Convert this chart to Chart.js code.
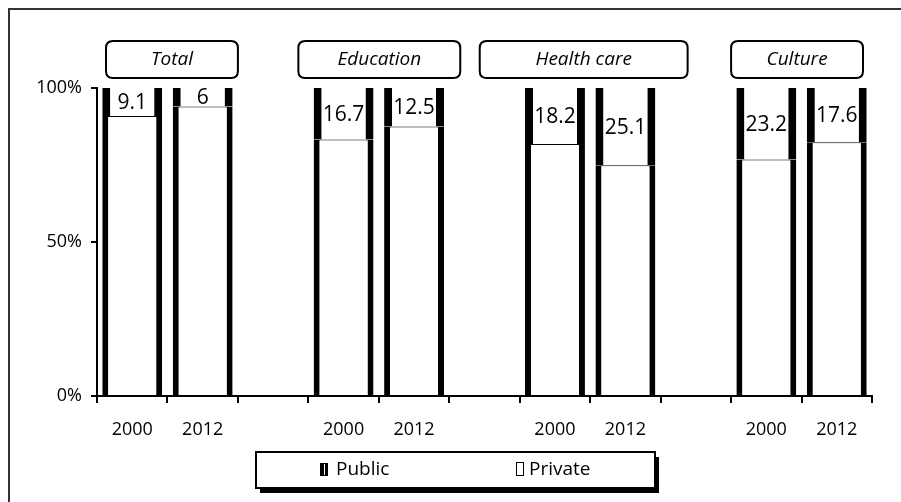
<!DOCTYPE html>
<html>
<head>
<meta charset="utf-8">
<script src="https://cdn.jsdelivr.net/npm/chart.js@4"></script>
<style>
  html, body { margin: 0; padding: 0; background: #fff; }
  #wrap { width: 901px; height: 502px; position: relative; }
</style>
</head>
<body>
<div id="wrap"><canvas id="c" width="901" height="502"></canvas></div>
<script>
// ---- data ----
const categories = ['2000', '2012', '', '2000', '2012', '', '2000', '2012', '', '2000', '2012'];
const publicValues = [90.9, 94.0, null, 83.3, 87.5, null, 81.8, 74.9, null, 76.8, 82.4];
const privateValues = [9.1, 6.0, null, 16.7, 12.5, null, 18.2, 25.1, null, 23.2, 17.6];
const privateLabels = ['9.1', '6', '', '16.7', '12.5', '', '18.2', '25.1', '', '23.2', '17.6'];
const sectorNames = ['Total', 'Education', 'Health care', 'Culture'];
const sectorFirstIndex = [0, 3, 6, 9];
const seriesNames = ['Public', 'Private'];
const yTickStep = 50;

// ---- style ----
const FONT = '"Open Sans", Lato, "Liberation Sans", sans-serif';
const headerBoxAdjust = [[9, 0], [-10, 11], [-40, 27], [0, -9]]; // [left, right] pixel tweaks
const headerTop = 41, headerBottom = 78;

function roundRect(ctx, x, y, w, h, r) {
  ctx.beginPath();
  ctx.moveTo(x + r, y);
  ctx.lineTo(x + w - r, y);
  ctx.quadraticCurveTo(x + w, y, x + w, y + r);
  ctx.lineTo(x + w, y + h - r);
  ctx.quadraticCurveTo(x + w, y + h, x + w - r, y + h);
  ctx.lineTo(x + r, y + h);
  ctx.quadraticCurveTo(x, y + h, x, y + h - r);
  ctx.lineTo(x, y + r);
  ctx.quadraticCurveTo(x, y, x + r, y);
  ctx.closePath();
}

const decorPlugin = {
  id: 'decor',
  beforeDraw(chart) {
    const ctx = chart.ctx;
    ctx.save();
    ctx.fillStyle = '#fff';
    ctx.fillRect(0, 0, chart.width, chart.height);
    // outer frame (top & left)
    ctx.strokeStyle = '#333';
    ctx.lineWidth = 2;
    ctx.beginPath();
    ctx.moveTo(9, 502);
    ctx.lineTo(9, 9);
    ctx.lineTo(901, 9);
    ctx.stroke();
    ctx.restore();
  },
  afterDraw(chart) {
    const ctx = chart.ctx;
    const xs = chart.scales.x;
    const half = (xs.getPixelForValue(1) - xs.getPixelForValue(0)) / 2;
    ctx.save();
    // sector header boxes
    sectorNames.forEach((name, i) => {
      const first = sectorFirstIndex[i];
      const left = xs.getPixelForValue(first) - half + headerBoxAdjust[i][0];
      const right = xs.getPixelForValue(first + 1) + half + headerBoxAdjust[i][1];
      ctx.fillStyle = '#fff';
      ctx.strokeStyle = '#000';
      ctx.lineWidth = 2;
      roundRect(ctx, left, headerTop, right - left, headerBottom - headerTop, 7);
      ctx.fill();
      ctx.stroke();
      ctx.fillStyle = '#000';
      ctx.font = 'italic 19px ' + FONT;
      ctx.textAlign = 'center';
      ctx.textBaseline = 'middle';
      ctx.fillText(name, (left + right) / 2, (headerTop + headerBottom) / 2);
    });

    // private value labels
    const meta = chart.getDatasetMeta(1);
    ctx.font = '21px ' + FONT;
    ctx.fillStyle = '#000';
    ctx.textAlign = 'center';
    ctx.textBaseline = 'middle';
    meta.data.forEach((bar, i) => {
      if (privateValues[i] == null) return;
      const p = bar.getProps(['x', 'y', 'base'], true);
      ctx.fillText(privateLabels[i], p.x, (p.y + p.base) / 2 + 1);
    });

    // legend box
    const lx = 256, ly = 452, lw = 399, lh = 36;
    ctx.fillStyle = '#000';
    ctx.fillRect(lx + 4, ly + 5, lw, lh);
    ctx.fillStyle = '#fff';
    ctx.fillRect(lx, ly, lw, lh);
    ctx.strokeStyle = '#000';
    ctx.lineWidth = 2;
    ctx.strokeRect(lx, ly, lw, lh);
    // public symbol
    ctx.fillStyle = '#000';
    ctx.fillRect(320, 463, 8, 13);
    ctx.fillStyle = '#fff';
    ctx.fillRect(324, 464, 1, 11);
    // private symbol
    ctx.strokeStyle = '#000';
    ctx.lineWidth = 1;
    ctx.strokeRect(516.5, 462.5, 7, 13);
    ctx.fillStyle = '#000';
    ctx.font = '19px ' + FONT;
    ctx.textAlign = 'left';
    ctx.textBaseline = 'middle';
    ctx.fillText(seriesNames[0], 336, 470);
    ctx.fillText(seriesNames[1], 529, 470);
    ctx.restore();
  }
};

new Chart(document.getElementById('c'), {
  type: 'bar',
  data: {
    labels: categories,
    datasets: [
      {
        label: seriesNames[0],
        data: publicValues,
        backgroundColor: '#fff',
        borderColor: '#000',
        borderWidth: { left: 6, right: 6, top: 1, bottom: 0 },
        borderSkipped: false
      },
      {
        label: seriesNames[1],
        data: privateValues,
        backgroundColor: '#fff',
        borderColor: '#000',
        borderWidth: { left: 8, right: 8, top: 0, bottom: 0 },
        borderSkipped: false
      }
    ]
  },
  options: {
    responsive: false,
    animation: false,
    devicePixelRatio: 1,
    layout: { padding: { top: 88, right: 29, left: 0, bottom: 0 } },
    datasets: { bar: { categoryPercentage: 1.0, barPercentage: 0.85 } },
    plugins: { legend: { display: false }, tooltip: { enabled: false }, title: { display: false } },
    scales: {
      x: {
        stacked: true,
        grid: { offset: true, drawOnChartArea: false, color: '#000', lineWidth: 2, tickLength: 7 },
        border: { color: '#000', width: 2 },
        ticks: { color: '#000', font: { family: FONT, size: 18 }, padding: 16, maxRotation: 0, autoSkip: false },
        afterFit: s => { s.height = 106; }
      },
      y: {
        stacked: true,
        min: 0,
        max: 100,
        grid: { drawOnChartArea: false, color: '#000', lineWidth: 2, tickLength: 6 },
        border: { color: '#000', width: 2 },
        ticks: { stepSize: yTickStep, color: '#000', font: { family: FONT, size: 18 }, padding: 9,
                 callback: v => v + '%' },
        afterFit: s => { s.width = 97; }
      }
    }
  },
  plugins: [decorPlugin]
});
</script>
</body>
</html>
